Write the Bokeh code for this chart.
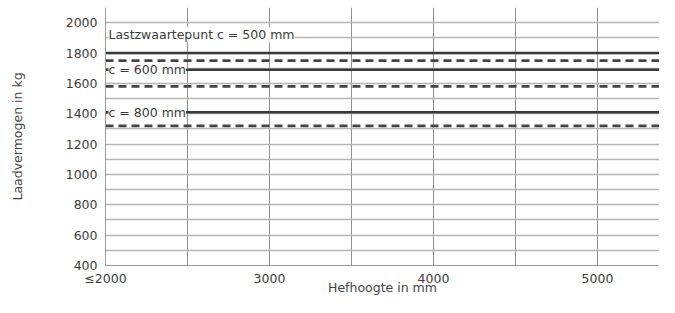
from bokeh.plotting import figure
from bokeh.models import Range1d, FixedTicker, Label
from bokeh.embed import file_html
from bokeh.resources import INLINE

# Data
lift_mm = [2000, 5400]
c500_solid = [1800, 1800]
c500_dashed = [1750, 1750]
c600_solid = [1690, 1690]
c600_dashed = [1580, 1580]
c800_solid = [1410, 1410]
c800_dashed = [1320, 1320]

x_ticks = [2000, 3000, 4000, 5000]
x_tick_labels = {2000: "≤2000"}
x_grid = [2000, 2500, 3000, 3500, 4000, 4500, 5000]
y_ticks = [400, 600, 800, 1000, 1200, 1400, 1600, 1800, 2000]
y_grid = list(range(400, 2101, 100))

series_labels = ["Lastzwaartepunt c = 500 mm", "c = 600 mm", "c = 800 mm"]
label_y = [1920, 1690, 1410]
x_title = "Hefhoogte in mm"
y_title = "Laadvermogen in kg"

FONT = "DejaVu Sans"
TXT = "#3c3c3c"

p = figure(width=659, height=297, output_backend="svg", toolbar_location=None,
           x_range=Range1d(2000, 5378), y_range=Range1d(400, 2100),
           min_border_left=105, min_border_right=0, min_border_top=7, min_border_bottom=32)
p.outline_line_color = None
p.background_fill_color = "white"
p.border_fill_color = "white"

for ax in (p.xaxis[0], p.yaxis[0]):
    ax.major_tick_line_color = None
    ax.minor_tick_line_color = None
    ax.major_tick_out = 0
    ax.major_tick_in = 0
    ax.minor_tick_out = 0
    ax.minor_tick_in = 0
    ax.axis_line_color = "#9a9a9a"
    ax.major_label_text_font = FONT
    ax.major_label_text_color = TXT
    ax.axis_label_text_font = FONT
    ax.axis_label_text_font_style = "normal"
    ax.axis_label_text_color = "#444444"

p.xaxis[0].ticker = FixedTicker(ticks=x_ticks)
p.xaxis[0].major_label_overrides = x_tick_labels
p.xaxis[0].major_label_standoff = 5
p.xaxis[0].major_label_text_font_size = "12.5px"
p.xaxis[0].axis_label = x_title
p.xaxis[0].axis_label_standoff = -9
p.xaxis[0].axis_label_text_font_size = "12.5px"
p.yaxis[0].ticker = FixedTicker(ticks=y_ticks)
p.yaxis[0].major_label_standoff = 8
p.yaxis[0].major_label_text_font_size = "12.5px"
p.yaxis[0].axis_label = y_title
p.yaxis[0].axis_label_standoff = 38
p.yaxis[0].axis_label_text_font_size = "12.5px"

p.xgrid[0].ticker = FixedTicker(ticks=x_grid)
p.xgrid[0].grid_line_color = "#8f8f8f"
p.xgrid[0].grid_line_width = 1
p.ygrid[0].ticker = FixedTicker(ticks=y_grid)
p.ygrid[0].grid_line_color = "#b4b4b4"
p.ygrid[0].grid_line_width = 1.3

LINE = "#3a3a3a"
for ys in (c500_solid, c600_solid, c800_solid):
    p.line(lift_mm, ys, line_color=LINE, line_width=2.6, line_cap="butt")
for ys in (c500_dashed, c600_dashed, c800_dashed):
    p.line(lift_mm, ys, line_color="#444444", line_width=2.6, line_dash="8 5", line_cap="butt")

for txt, yv in zip(series_labels, label_y):
    p.add_layout(Label(x=2000, y=yv, text=txt, x_offset=3, text_baseline="middle",
                       text_font=FONT, text_font_size="12.5px", text_color=TXT,
                       background_fill_color="white", padding=0))

open("out.html", "w").write(file_html(p, INLINE))
